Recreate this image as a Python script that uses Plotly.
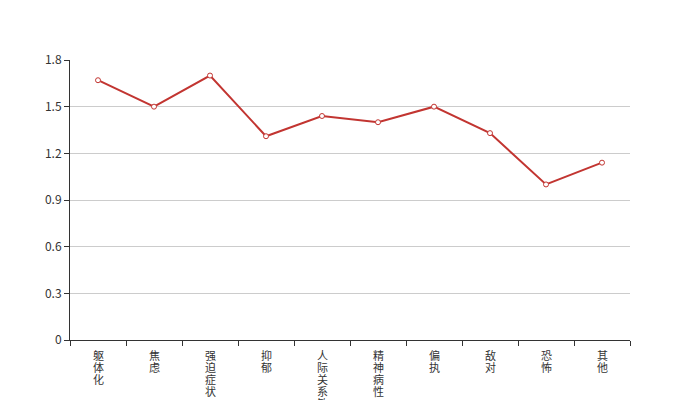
import plotly.graph_objects as go

categories = ["躯体化", "焦虑", "强迫症状", "抑郁", "人际关系敏感", "精神病性", "偏执", "敌对", "恐怖", "其他"]
scores = [1.67, 1.50, 1.70, 1.31, 1.44, 1.40, 1.50, 1.33, 1.00, 1.14]
y_ticks = [0, 0.3, 0.6, 0.9, 1.2, 1.5, 1.8]

fig = go.Figure()
fig.add_trace(
    go.Scatter(
        x=categories,
        y=scores,
        mode="lines+markers",
        line=dict(color="#c23531", width=2),
        marker=dict(symbol="circle", size=5, color="white", line=dict(color="#c23531", width=1)),
        name="得分",
        hovertemplate="%{x}: %{y}<extra></extra>",
    )
)

# vertical category labels, one character per line (tight line spacing like the original)
for name in categories:
    for i, ch in enumerate(name):
        fig.add_annotation(
            x=name,
            y=0,
            xref="x",
            yref="y",
            text=ch,
            showarrow=False,
            xanchor="center",
            yanchor="top",
            yshift=-(5 + 12 * i),
            font=dict(size=11, color="#333"),
        )

# the page body has an 8px margin, so the figure is a bit smaller than the window
fig.update_layout(
    width=692,
    height=392,
    margin=dict(l=62, r=70, t=52, b=60),
    paper_bgcolor="white",
    plot_bgcolor="white",
    showlegend=False,
    font=dict(family="Noto Sans CJK SC, sans-serif", size=11, color="#333"),
)
fig.update_xaxes(
    type="category",
    range=[-0.5, len(categories) - 0.5],
    tickson="boundaries",
    ticks="outside",
    ticklen=5,
    tickcolor="#333",
    showticklabels=False,
    showline=True,
    linecolor="#333",
    linewidth=1,
    showgrid=False,
    automargin=False,
)
fig.update_yaxes(
    range=[0, 1.8],
    tickmode="array",
    tickvals=y_ticks,
    ticktext=[f"{v:g}" for v in y_ticks],
    ticks="outside",
    ticklen=5,
    tickcolor="#333",
    showline=True,
    linecolor="#333",
    linewidth=1,
    showgrid=True,
    gridcolor="#ccc",
    zeroline=False,
    automargin=False,
    tickfont=dict(size=12, color="#333"),
)

fig.write_html("out.html")
